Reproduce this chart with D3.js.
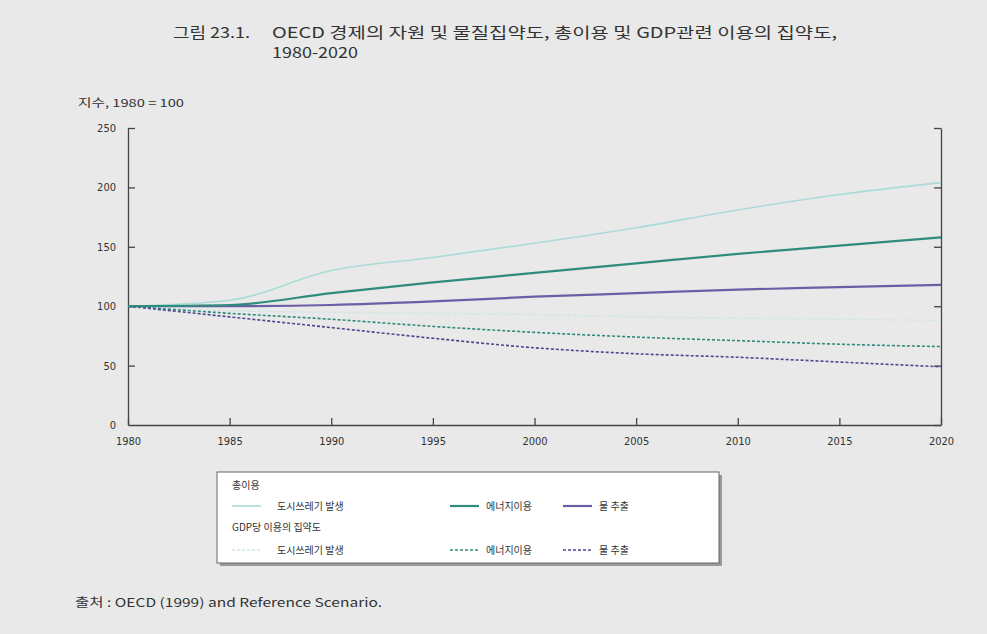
<!DOCTYPE html>
<html>
<head>
<meta charset="utf-8">
<script src="https://cdn.jsdelivr.net/npm/d3@7"></script>
<style>
  body { margin: 0; background: #e9e9e9; }
  text { font-family: "Noto Sans CJK KR", "Noto Sans", sans-serif; fill: #333; }
</style>
</head>
<body>
<svg id="chart" width="987" height="634"></svg>
<script>
// data (index, 1980 = 100)
var years = [1980, 1985, 1990, 1995, 2000, 2005, 2010, 2015, 2020];
var wasteTotal   = [100, 105, 130, 141, 153, 166, 181, 194, 204];
var energyTotal  = [100, 101, 111, 120, 128, 136, 144, 151, 158];
var waterTotal   = [100, 100, 101, 104, 108, 111, 114, 116, 118];
var wasteGdp     = [100, 96, 95, 94, 93, 91, 90, 89, 88];
var energyGdp    = [100, 94, 89, 83, 78, 74, 71, 68, 66];
var waterGdp     = [100, 91, 82, 73, 65, 60, 57, 53, 49];
var yTicks = [0, 50, 100, 150, 200, 250];

var series = [
  { v: wasteGdp,    color: "#cfe6e4", dash: "3,2", w: 1.4 },
  { v: wasteTotal,  color: "#a9dcd6", dash: null,  w: 1.6 },
  { v: energyGdp,   color: "#2f8c7c", dash: "3,2", w: 1.6 },
  { v: waterGdp,    color: "#4c4890", dash: "3,2", w: 1.6 },
  { v: waterTotal,  color: "#6a5fa6", dash: null,  w: 2.2 },
  { v: energyTotal, color: "#2f8c7c", dash: null,  w: 2.2 }
];

var svg = d3.select("#chart");

var x = d3.scaleLinear().domain([1980, 2020]).range([128, 941]);
var y = d3.scaleLinear().domain([0, 250]).range([425, 128]);

// title
svg.append("text").attr("x", 173).attr("y", 38).style("font-size", "15px")
  .attr("textLength", 77).attr("lengthAdjust", "spacingAndGlyphs")
  .text("그림 23.1.");
svg.append("text").attr("x", 272).attr("y", 38).style("font-size", "15px")
  .attr("textLength", 565).attr("lengthAdjust", "spacingAndGlyphs")
  .text("OECD 경제의 자원 및 물질집약도, 총이용 및 GDP관련 이용의 집약도,");
svg.append("text").attr("x", 272).attr("y", 58).style("font-size", "15px")
  .attr("textLength", 86).attr("lengthAdjust", "spacingAndGlyphs")
  .text("1980-2020");

svg.append("text").attr("x", 78).attr("y", 107).style("font-size", "11px")
  .attr("textLength", 106).attr("lengthAdjust", "spacingAndGlyphs")
  .text("지수, 1980 = 100");

// axes
var gx = svg.append("g").attr("transform", "translate(0,425)")
  .call(d3.axisBottom(x).tickValues(d3.range(1980, 2021, 5)).tickFormat(d3.format("d"))
    .tickSizeInner(-7).tickSizeOuter(0).tickPadding(12));
var gl = svg.append("g").attr("transform", "translate(128,0)")
  .call(d3.axisLeft(y).tickValues(yTicks).tickSizeInner(-7).tickSizeOuter(0).tickPadding(12));
var gr = svg.append("g").attr("transform", "translate(941,0)")
  .call(d3.axisRight(y).tickValues(yTicks).tickSizeInner(-7).tickSizeOuter(0).tickFormat(""));
[gx, gl, gr].forEach(function(g) {
  g.select(".domain").attr("stroke", "#444").attr("stroke-width", 1.3);
  g.selectAll(".tick line").attr("stroke", "#444").attr("stroke-width", 1.3);
  g.selectAll(".tick text").style("font-size", "11px").attr("fill", "#444")
    .style("font-family", "'Liberation Sans Narrow', 'DejaVu Sans Condensed', sans-serif");
});
gl.selectAll(".tick line").filter(function(d) { return d === 0; }).remove();

// lines
var line = d3.line().x(function(d, i) { return x(years[i]); }).y(function(d) { return y(d); })
  .curve(d3.curveMonotoneX);
svg.selectAll(".series").data(series).enter().append("path")
  .attr("class", "series")
  .attr("fill", "none")
  .attr("stroke", function(d) { return d.color; })
  .attr("stroke-width", function(d) { return d.w; })
  .attr("stroke-dasharray", function(d) { return d.dash; })
  .attr("d", function(d) { return line(d.v); });

// legend
var lg = svg.append("g");
lg.append("rect").attr("x", 220).attr("y", 475).attr("width", 502).attr("height", 91).attr("fill", "#9a9a9a");
lg.append("rect").attr("x", 217).attr("y", 472).attr("width", 502).attr("height", 91)
  .attr("fill", "#fff").attr("stroke", "#666").attr("stroke-width", 1);

var groupLabels = [{ t: "총이용", y: 489 }, { t: "GDP당 이용의 집약도", y: 531 }];
lg.selectAll(".glab").data(groupLabels).enter().append("text")
  .attr("x", 232).attr("y", function(d) { return d.y; }).style("font-size", "10px")
  .text(function(d) { return d.t; });

var legendItems = [
  { s: 1, t: "도시쓰레기 발생", x: 232, y: 506 },
  { s: 5, t: "에너지이용", x: 450, y: 506 },
  { s: 4, t: "물 추출", x: 563, y: 506 },
  { s: 0, t: "도시쓰레기 발생", x: 232, y: 550 },
  { s: 2, t: "에너지이용", x: 450, y: 550 },
  { s: 3, t: "물 추출", x: 563, y: 550 }
];
var li = lg.selectAll(".li").data(legendItems).enter().append("g")
  .attr("transform", function(d) { return "translate(" + d.x + "," + d.y + ")"; });
li.append("line").attr("x1", 0).attr("x2", 29)
  .attr("stroke", function(d) { return series[d.s].color; })
  .attr("stroke-width", function(d) { return series[d.s].w; })
  .attr("stroke-dasharray", function(d) { return series[d.s].dash; });
li.append("text").attr("x", function(d) { return d.x === 232 ? 45 : 36; }).attr("y", 4)
  .style("font-size", "10px").text(function(d) { return d.t; });

// source
svg.append("text").attr("x", 75).attr("y", 607).style("font-size", "12px")
  .attr("textLength", 307).attr("lengthAdjust", "spacingAndGlyphs")
  .text("출처 :  OECD (1999) and Reference Scenario.");
</script>
</body>
</html>
